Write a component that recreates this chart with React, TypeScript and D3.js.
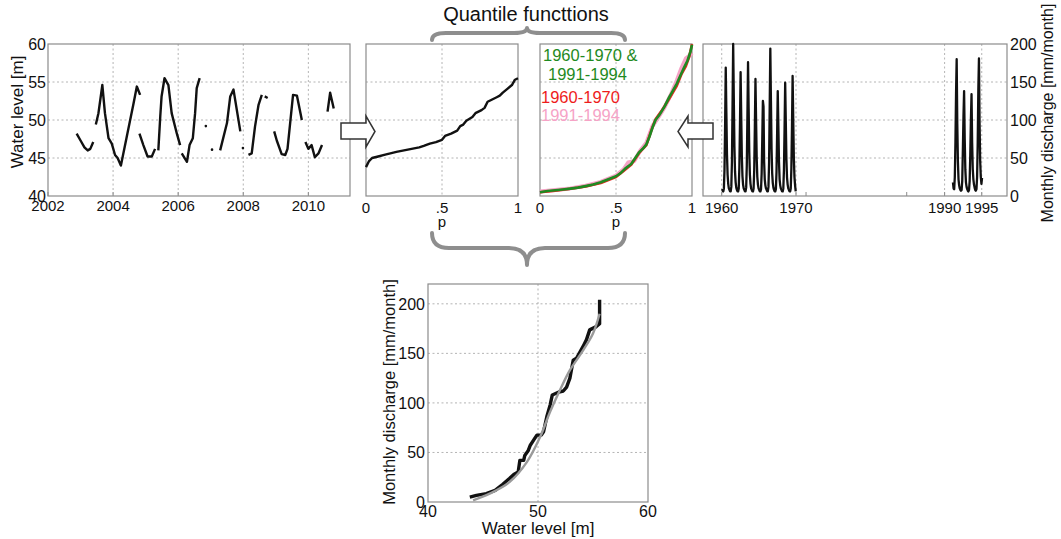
import React from 'react';
import * as d3 from 'd3';

// ---------- Panel 1: water level time series (null = gap) ----------
const wlYears = [
  2002.88, 2003.0, 2003.12, 2003.22, 2003.3, 2003.39, null,
  2003.47, 2003.55, 2003.67, 2003.75, 2003.86, 2003.96, 2004.06, 2004.14, 2004.24, 2004.42, 2004.63, 2004.73, 2004.83, null,
  2004.81, 2004.93, 2005.06, 2005.19, 2005.29, null,
  2005.39, 2005.45, 2005.49, 2005.58, 2005.7, 2005.8, 2005.96, 2006.06, null,
  2006.11, 2006.27, 2006.35, 2006.45, 2006.52, 2006.57, 2006.66, null,
  2007.29, 2007.5, 2007.6, 2007.7, 2007.91, null,
  2008.16, 2008.26, 2008.36, 2008.47, 2008.57, null,
  2008.66, 2008.75, null,
  2008.95, 2009.03, 2009.18, 2009.29, 2009.36, 2009.53, 2009.65, 2009.8, null,
  2009.91, 2010.0, 2010.1, 2010.2, 2010.31, 2010.42, null,
  2010.59, 2010.67, 2010.78,
];
const wlLevels = [
  48.2, 47.3, 46.4, 46.0, 46.2, 47.1, null,
  49.4, 50.9, 54.6, 50.9, 47.6, 46.9, 45.4, 45.0, 44.0, 47.8, 52.2, 54.4, 53.3, null,
  48.2, 46.7, 45.2, 45.2, 46.2, null,
  46.0, 50.5, 53.1, 55.5, 54.6, 50.9, 48.2, 46.7, null,
  45.6, 44.5, 46.7, 47.6, 50.9, 54.2, 55.5, null,
  46.0, 49.6, 53.1, 54.0, 48.5, null,
  45.4, 45.6, 49.1, 52.0, 53.3, null,
  53.1, 52.9, null,
  48.5, 47.3, 45.5, 45.4, 46.2, 53.3, 53.2, 50.0, null,
  47.1, 46.2, 46.7, 45.1, 45.6, 46.7, null,
  51.1, 53.6, 51.5,
];
const wlDotYears = [2006.85, 2007.04, 2007.99];
const wlDotLevels = [49.2, 46.1, 46.3];
const wlXTicks = [2002, 2004, 2006, 2008, 2010];
const wlYTicks = [40, 45, 50, 55, 60];

// ---------- Panel 2: quantile function of water level ----------
const qwProb = [0, 0.02, 0.04, 0.08, 0.12, 0.16, 0.2, 0.25, 0.3, 0.35, 0.38, 0.42, 0.46, 0.5, 0.52, 0.56, 0.6, 0.62, 0.64, 0.66, 0.7, 0.72, 0.76, 0.78, 0.8, 0.83, 0.86, 0.88, 0.9, 0.93, 0.96, 0.98, 1.0];
const qwLevel = [43.8, 44.6, 45.0, 45.2, 45.4, 45.6, 45.8, 46.0, 46.2, 46.4, 46.6, 46.9, 47.1, 47.4, 47.9, 48.2, 48.6, 49.2, 49.4, 49.9, 50.4, 50.9, 51.3, 51.6, 52.4, 52.7, 53.0, 53.2, 53.6, 54.1, 54.6, 55.3, 55.5];
const pTicks = [0, 0.5, 1];
const pTickLabels = ['0', '.5', '1'];

// ---------- Panel 3: quantile functions of discharge ----------
const qBothProb = [0, 0.05, 0.1, 0.15, 0.2, 0.25, 0.3, 0.35, 0.4, 0.45, 0.5, 0.53, 0.56, 0.6, 0.62, 0.65, 0.68, 0.7, 0.72, 0.74, 0.76, 0.79, 0.82, 0.85, 0.87, 0.9, 0.92, 0.95, 0.97, 0.99, 1.0];
const qBoth = [5, 6.5, 7.5, 8.5, 9.7, 11, 13, 15, 18, 22, 26, 30, 36, 42, 48, 57, 63, 68, 78, 90, 100, 108, 118, 130, 137, 148, 157, 170, 178, 190, 199];
const q60Prob = [0, 0.1, 0.2, 0.3, 0.4, 0.5, 0.55, 0.6, 0.65, 0.7, 0.73, 0.76, 0.8, 0.85, 0.9, 0.93, 0.96, 0.98, 1.0];
const q60 = [5, 7, 9.5, 12.5, 17, 25, 33, 41, 56, 67, 85, 101, 112, 128, 145, 160, 171, 182, 200];
const q90Prob = [0, 0.1, 0.2, 0.3, 0.4, 0.5, 0.55, 0.58, 0.62, 0.66, 0.7, 0.74, 0.78, 0.82, 0.86, 0.9, 0.93, 0.96, 0.98, 1.0];
const q90 = [6, 8, 10, 13.5, 18.5, 27, 35, 44, 46, 60, 70, 92, 104, 117, 133, 152, 168, 181, 184, 188];
const qYTicks = [0, 50, 100, 150, 200];

// ---------- Panel 4: monthly discharge ----------
const q60sStartYear = 1960;
const discharge60s = [
  9, 7, 6, 10, 35, 95, 169, 110, 55, 28, 16, 10,
  8, 6, 6, 12, 45, 120, 200, 130, 65, 32, 18, 11,
  8, 6, 6, 10, 38, 95, 163, 105, 52, 26, 15, 10,
  8, 6, 6, 11, 40, 105, 176, 115, 58, 28, 16, 10,
  8, 6, 6, 10, 34, 90, 154, 100, 50, 25, 15, 10,
  8, 6, 6, 9, 30, 75, 125, 118, 45, 22, 14, 10,
  8, 6, 6, 12, 44, 118, 194, 125, 62, 30, 17, 11,
  8, 6, 6, 9, 32, 82, 138, 92, 45, 22, 14, 10,
  8, 6, 6, 10, 34, 88, 149, 98, 48, 24, 15, 10,
  8, 6, 6, 10, 36, 92, 158, 102, 50, 25, 14, 6,
];
const q90sStartYear = 1991;
const q90sStartMonth = 1; // February
const discharge90s = [
  18, 10, 9, 25, 70, 135, 180, 95, 45, 22, 14,
  10, 8, 7, 8, 20, 60, 105, 138, 75, 35, 18, 12,
  9, 7, 6, 8, 20, 55, 100, 134, 70, 35, 22, 15,
  11, 8, 7, 9, 25, 70, 140, 181, 95, 45, 25, 16,
  24,
];
const dischargeXTicks = [1960, 1970, 1990, 1995];
const dischargeMinorTicks = [1971.35, 1984.9];

// ---------- Panel 5: rating curve ----------
const rcLevel = [43.8, 44.4, 45.3, 46.1, 46.8, 47.4, 47.8, 48.2, 48.35, 48.7, 48.8, 49.1, 49.3, 49.6, 49.9, 50.3, 50.5, 50.8, 51.1, 51.3, 51.9, 52.3, 52.6, 52.9, 53.2, 53.5, 54.1, 54.4, 54.7, 55.3, 55.6, 55.6];
const rcDischarge = [5, 6.7, 8.4, 11.8, 17.9, 23.6, 27.7, 30.4, 42, 42, 47, 51.6, 57.3, 62.4, 67.5, 67.5, 70.8, 86, 97.8, 108, 111, 112, 116, 125, 143, 145, 157, 163.6, 173.7, 177, 180, 204];
const fitLevel = [44.1, 45.6, 47.4, 49.0, 50.2, 51.1, 52.0, 52.9, 54.1, 55.0, 55.6];
const fitDischarge = [1.7, 8.4, 20, 40.5, 65.8, 91, 113, 133, 153, 170, 190];
const rcXTicks = [40, 50, 60];
const rcYTicks = [0, 50, 100, 150, 200];

const FONT = '"Liberation Sans", Arial, Helvetica, sans-serif';
const FRAME = '#8c8c8c';
const GRID = '#b4b4b4';
const BRACE = '#8e8e8e';

type Sc = d3.ScaleLinear<number, number>;

function Frame({ x, y }: { x: Sc; y: Sc }) {
  const [l, r] = x.range();
  const [b, t] = y.range();
  return <rect x={l} y={t} width={r - l} height={b - t} fill="none" stroke={FRAME} strokeWidth={1.2} />;
}

function VGrid({ x, y, vals }: { x: Sc; y: Sc; vals: number[] }) {
  const [b, t] = y.range();
  return (
    <g>
      {vals.map((v, i) => (
        <line key={i} x1={x(v)} x2={x(v)} y1={t} y2={b} stroke={GRID} strokeWidth={1} strokeDasharray="2,2.5" />
      ))}
    </g>
  );
}
function HGrid({ x, y, vals }: { x: Sc; y: Sc; vals: number[] }) {
  const [l, r] = x.range();
  return (
    <g>
      {vals.map((v, i) => (
        <line key={i} x1={l} x2={r} y1={y(v)} y2={y(v)} stroke={GRID} strokeWidth={1} strokeDasharray="2,2.5" />
      ))}
    </g>
  );
}

export default function App() {
  const x1 = d3.scaleLinear().domain([2002, 2011.28]).range([48, 350]);
  const y1 = d3.scaleLinear().domain([40, 60]).range([196, 44]);
  const x2 = d3.scaleLinear().domain([0, 1]).range([366, 518]);
  const x3 = d3.scaleLinear().domain([0, 1]).range([540, 692]);
  const y3 = d3.scaleLinear().domain([0, 200]).range([196, 44]);
  const x4 = d3.scaleLinear().domain([1957.48, 1998.4]).range([703, 1007]);
  const x5 = d3.scaleLinear().domain([40, 60]).range([428, 648]);
  const y5 = d3.scaleLinear().domain([0, 220]).range([502, 284]);

  const wlIdx = d3.range(wlYears.length);
  const wlPath = d3
    .line<number>()
    .defined((i) => wlYears[i] != null && wlLevels[i] != null)
    .x((i) => x1(wlYears[i] as number))
    .y((i) => y1(wlLevels[i] as number))(wlIdx) as string;

  const lineXY = (xs: number[], ys: number[], sx: Sc, sy: Sc, curve: d3.CurveFactory = d3.curveLinear) =>
    d3
      .line<number>()
      .x((i) => sx(xs[i]))
      .y((i) => sy(ys[i]))
      .curve(curve)(d3.range(xs.length)) as string;

  const qwPath = lineXY(qwProb, qwLevel, x2, y1);
  const qBothPath = lineXY(qBothProb, qBoth, x3, y3);
  const q60Path = lineXY(q60Prob, q60, x3, y3);
  const q90Path = lineXY(q90Prob, q90, x3, y3);

  const t60 = discharge60s.map((_, i) => q60sStartYear + (i + 0.5) / 12);
  const t90 = discharge90s.map((_, i) => q90sStartYear + (i + q90sStartMonth + 0.5) / 12);
  const d60Path = lineXY(t60, discharge60s, x4, y3);
  const d90Path = lineXY(t90, discharge90s, x4, y3);

  const rcPath = lineXY(rcLevel, rcDischarge, x5, y5);
  const fitPath = lineXY(fitLevel, fitDischarge, x5, y5, d3.curveCatmullRom);

  const txt = (s: number) => ({ fontFamily: FONT, fontSize: s, fill: '#111' });

  return (
    <svg width={1061} height={539} style={{ position: 'absolute', left: 0, top: 0, background: '#fff' }}>
      <rect x={0} y={0} width={1061} height={539} fill="#fff" />

      {/* Title and braces */}
      <text x={526} y={21} textAnchor="middle" {...txt(20)}>Quantile functtions</text>
      <path d="M432,40 Q432,33 446,33 L514,33 Q527,33 527,28 Q527,33 540,33 L611,33 Q625,33 625,40"
        fill="none" stroke={BRACE} strokeWidth={4} strokeLinecap="round" strokeLinejoin="round" />
      <path d="M432,233 Q432,248 449,248 L509,248 Q527,248 527,265 Q527,248 545,248 L608,248 Q625,248 625,233"
        fill="none" stroke={BRACE} strokeWidth={4} strokeLinecap="round" strokeLinejoin="round" />

      {/* Panel 1 */}
      <VGrid x={x1} y={y1} vals={wlXTicks.slice(1)} />
      <HGrid x={x1} y={y1} vals={wlYTicks.slice(1, -1)} />
      {wlXTicks.map((v) => (
        <line key={'t1' + v} x1={x1(v)} x2={x1(v)} y1={196} y2={192} stroke={FRAME} />
      ))}
      <Frame x={x1} y={y1} />
      <path d={wlPath} fill="none" stroke="#111" strokeWidth={2.4} strokeLinejoin="round" />
      {wlDotYears.map((v, i) => (
        <circle key={'d' + i} cx={x1(v)} cy={y1(wlDotLevels[i])} r={1.3} fill="#111" />
      ))}
      {wlYTicks.map((v) => (
        <text key={'y1' + v} x={46} y={y1(v)} dy="0.36em" textAnchor="end" {...txt(16)}>{v}</text>
      ))}
      {wlXTicks.map((v) => (
        <text key={'x1' + v} x={x1(v)} y={211} textAnchor="middle" {...txt(15)}>{v}</text>
      ))}
      <text transform="translate(23,112) rotate(-90)" textAnchor="middle" {...txt(17)}>Water level [m]</text>

      {/* Panel 2 */}
      <VGrid x={x2} y={y1} vals={[0.5]} />
      <HGrid x={x2} y={y1} vals={wlYTicks.slice(1, -1)} />
      <Frame x={x2} y={y1} />
      <path d={qwPath} fill="none" stroke="#111" strokeWidth={2.4} strokeLinejoin="round" />
      {pTicks.map((v, i) => (
        <text key={'x2' + v} x={x2(v)} y={213} textAnchor="middle" {...txt(15)}>{pTickLabels[i]}</text>
      ))}
      <text x={x2(0.5)} y={227} textAnchor="middle" {...txt(15)}>p</text>

      {/* Panel 3 */}
      <VGrid x={x3} y={y3} vals={[0.5]} />
      <HGrid x={x3} y={y3} vals={qYTicks.slice(1, -1)} />
      <Frame x={x3} y={y3} />
      <path d={q90Path} fill="none" stroke="#f6a3c6" strokeWidth={4} strokeLinejoin="round" />
      <path d={q60Path} fill="none" stroke="#e8271f" strokeWidth={2.6} strokeLinejoin="round" />
      <path d={qBothPath} fill="none" stroke="#1f8a22" strokeWidth={2.6} strokeLinejoin="round" />
      {pTicks.map((v, i) => (
        <text key={'x3' + v} x={x3(v)} y={213} textAnchor="middle" {...txt(15)}>{pTickLabels[i]}</text>
      ))}
      <text x={x3(0.5)} y={227} textAnchor="middle" {...txt(15)}>p</text>
      <g fontFamily={FONT} fontSize={16.5}>
        <text x={543} y={61} fill="#1f8a22">1960-1970 &amp;</text>
        <text x={548} y={80} fill="#1f8a22">1991-1994</text>
        <text x={541} y={103} fill="#ee1c1c">1960-1970</text>
        <text x={541} y={121} fill="#f6a3c6">1991-1994</text>
      </g>

      {/* Panel 4 */}
      <VGrid x={x4} y={y3} vals={dischargeXTicks} />
      <HGrid x={x4} y={y3} vals={qYTicks.slice(1, -1)} />
      {[...dischargeXTicks, ...dischargeMinorTicks].map((v) => (
        <line key={'t4' + v} x1={x4(v)} x2={x4(v)} y1={196} y2={192} stroke={FRAME} />
      ))}
      <Frame x={x4} y={y3} />
      <path d={d60Path} fill="none" stroke="#111" strokeWidth={2.3} strokeLinejoin="round" />
      <path d={d90Path} fill="none" stroke="#111" strokeWidth={2.3} strokeLinejoin="round" />
      {qYTicks.map((v) => (
        <text key={'y4' + v} x={1010} y={y3(v)} dy="0.36em" textAnchor="start" {...txt(16)}>{v}</text>
      ))}
      {dischargeXTicks.map((v) => (
        <text key={'x4' + v} x={x4(v)} y={213} textAnchor="middle" {...txt(15)}>{v}</text>
      ))}
      <text transform="translate(1053,113) rotate(-90)" textAnchor="middle" {...txt(16)}>Monthly discharge [mm/month]</text>

      {/* Arrows */}
      <polygon points="341,123 366,123 366,116 375,131.5 366,147 366,139 341,139"
        fill="#fff" stroke="#333" strokeWidth={1.5} strokeLinejoin="miter" />
      <polygon points="713,123 688,123 688,116 678,131.5 688,147 688,139 713,139"
        fill="#fff" stroke="#333" strokeWidth={1.5} strokeLinejoin="miter" />

      {/* Panel 5 */}
      <VGrid x={x5} y={y5} vals={[50]} />
      <HGrid x={x5} y={y5} vals={rcYTicks.slice(1)} />
      <Frame x={x5} y={y5} />
      <path d={rcPath} fill="none" stroke="#111" strokeWidth={3.4} strokeLinejoin="round" />
      <path d={fitPath} fill="none" stroke="#9a9a9a" strokeWidth={2.4} />
      {rcYTicks.map((v) => (
        <text key={'y5' + v} x={425} y={y5(v)} dy="0.36em" textAnchor="end" {...txt(16)}>{v}</text>
      ))}
      {rcXTicks.map((v) => (
        <text key={'x5' + v} x={x5(v)} y={517} textAnchor="middle" {...txt(16)}>{v}</text>
      ))}
      <text x={538} y={534} textAnchor="middle" {...txt(17)}>Water level [m]</text>
      <text transform="translate(395,392) rotate(-90)" textAnchor="middle" {...txt(16.5)}>Monthly discharge [mm/month]</text>
    </svg>
  );
}
